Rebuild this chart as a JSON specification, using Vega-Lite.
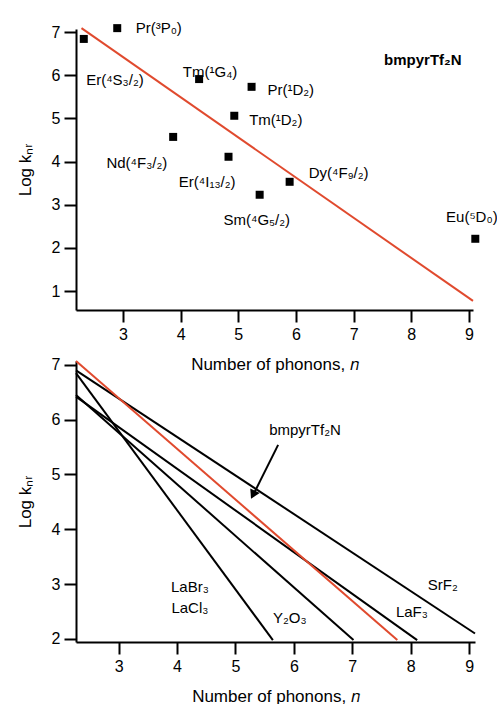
{
  "$schema": "https://vega.github.io/schema/vega-lite/v6.json",
  "background": "white",
  "padding": {"left": 16, "top": 21, "right": 0, "bottom": 0},
  "spacing": 51,
  "bounds": "flush",
  "config": {
    "view": {"stroke": null},
    "font": "Liberation Sans",
    "axis": {
      "grid": false,
      "domainColor": "black",
      "domainWidth": 2,
      "tickColor": "black",
      "tickWidth": 2,
      "tickSize": 12,
      "labelColor": "black",
      "labelFontSize": 16,
      "labelFont": "Liberation Sans",
      "labelPadding": 4,
      "format": "d",
      "titleColor": "black",
      "titleFontSize": 17,
      "titleFont": "Liberation Sans",
      "titleFontWeight": "normal"
    },
    "text": {"font": "Liberation Sans", "fontSize": 15, "color": "black"}
  },
  "datasets": {
    "fitTop": [
      {"n": 2.28, "logk": 7.09},
      {"n": 9.07, "logk": 0.77}
    ],
    "ions": [
      {"level": "Er(4S3/2)", "n": 2.32, "logk": 6.84},
      {"level": "Pr(3P0)", "n": 2.9, "logk": 7.09},
      {"level": "Tm(1G4)", "n": 4.32, "logk": 5.91},
      {"level": "Pr(1D2)", "n": 5.23, "logk": 5.73},
      {"level": "Tm(1D2)", "n": 4.93, "logk": 5.06},
      {"level": "Nd(4F3/2)", "n": 3.87, "logk": 4.57},
      {"level": "Er(4I13/2)", "n": 4.83, "logk": 4.11},
      {"level": "Dy(4F9/2)", "n": 5.89, "logk": 3.53},
      {"level": "Sm(4G5/2)", "n": 5.37, "logk": 3.23},
      {"level": "Eu(5D0)", "n": 9.11, "logk": 2.21}
    ],
    "ionLabels": [
      {"text": "Pr(³P₀)", "n": 3.62, "logk": 7.09},
      {"text": "Er(⁴S₃/₂)", "n": 2.86, "logk": 5.89},
      {"text": "Tm(¹G₄)", "n": 4.51, "logk": 6.07},
      {"text": "Pr(¹D₂)", "n": 5.91, "logk": 5.66},
      {"text": "Tm(¹D₂)", "n": 5.65, "logk": 4.96},
      {"text": "Nd(⁴F₃/₂)", "n": 3.24, "logk": 3.97},
      {"text": "Er(⁴I₁₃/₂)", "n": 4.46, "logk": 3.53},
      {"text": "Dy(⁴F₉/₂)", "n": 6.74, "logk": 3.74},
      {"text": "Sm(⁴G₅/₂)", "n": 5.32, "logk": 2.65},
      {"text": "Eu(⁵D₀)", "n": 9.05, "logk": 2.72}
    ],
    "hosts": [
      {"host": "SrF2", "n": 2.27, "logk": 6.9},
      {"host": "SrF2", "n": 9.1, "logk": 2.1},
      {"host": "LaBr3/LaCl3", "n": 2.27, "logk": 6.85},
      {"host": "LaBr3/LaCl3", "n": 5.64, "logk": 1.98},
      {"host": "Y2O3", "n": 2.27, "logk": 6.45},
      {"host": "Y2O3", "n": 7.02, "logk": 1.98},
      {"host": "LaF3", "n": 2.27, "logk": 6.42},
      {"host": "LaF3", "n": 8.11, "logk": 1.98}
    ],
    "fitBottom": [
      {"n": 2.27, "logk": 7.07},
      {"n": 7.77, "logk": 1.98}
    ],
    "hostLabels": [
      {"text": "SrF₂", "n": 8.55, "logk": 2.98},
      {"text": "LaF₃", "n": 8.02, "logk": 2.49},
      {"text": "Y₂O₃", "n": 5.93, "logk": 2.38},
      {"text": "LaBr₃", "n": 4.22, "logk": 2.95},
      {"text": "LaCl₃", "n": 4.22, "logk": 2.57},
      {"text": "bmpyrTf₂N", "n": 6.19, "logk": 5.81}
    ],
    "pointer": [
      {"n": 5.73, "logk": 5.54, "n2": 5.29, "logk2": 4.6}
    ],
    "pointerTip": [
      {"n": 5.3, "logk": 4.63}
    ]
  },
  "vconcat": [
    {
      "width": 397,
      "height": 281,
      "layer": [
        {
          "data": {"name": "fitTop"},
          "mark": {"type": "line", "color": "#e04a2e", "strokeWidth": 2},
          "encoding": {
            "x": {
              "field": "n", "type": "quantitative",
              "scale": {"domain": [2.185, 9.07], "nice": false, "zero": false},
              "axis": {"values": [3, 4, 5, 6, 7, 8, 9], "title": "Number of phonons, 𝑛", "titlePadding": 14}
            },
            "y": {
              "field": "logk", "type": "quantitative",
              "scale": {"domain": [0.56, 7.07], "nice": false, "zero": false},
              "axis": {"values": [1, 2, 3, 4, 5, 6, 7], "title": "Log kₙᵣ", "titlePadding": 17}
            }
          }
        },
        {
          "data": {"name": "ions"},
          "mark": {"type": "point", "shape": "square", "filled": true, "color": "black", "size": 64, "opacity": 1},
          "encoding": {
            "x": {"field": "n", "type": "quantitative"},
            "y": {"field": "logk", "type": "quantitative"}
          }
        },
        {
          "data": {"name": "ionLabels"},
          "mark": {"type": "text", "align": "center", "baseline": "middle"},
          "encoding": {
            "x": {"field": "n", "type": "quantitative"},
            "y": {"field": "logk", "type": "quantitative"},
            "text": {"field": "text"}
          }
        },
        {
          "data": {"values": [{"text": "bmpyrTf₂N", "n": 8.2, "logk": 6.35}]},
          "mark": {"type": "text", "align": "center", "baseline": "middle", "fontWeight": "bold"},
          "encoding": {
            "x": {"field": "n", "type": "quantitative"},
            "y": {"field": "logk", "type": "quantitative"},
            "text": {"field": "text"}
          }
        }
      ]
    },
    {
      "width": 399,
      "height": 281,
      "layer": [
        {
          "data": {"name": "hosts"},
          "mark": {"type": "line", "color": "black", "strokeWidth": 2},
          "encoding": {
            "x": {
              "field": "n", "type": "quantitative",
              "scale": {"domain": [2.27, 9.1], "nice": false, "zero": false},
              "axis": {"values": [3, 4, 5, 6, 7, 8, 9], "title": "Number of phonons, 𝑛", "titlePadding": 14}
            },
            "y": {
              "field": "logk", "type": "quantitative",
              "scale": {"domain": [1.945, 7.07], "nice": false, "zero": false},
              "axis": {"values": [2, 3, 4, 5, 6, 7], "title": "Log kₙᵣ", "titlePadding": 17}
            },
            "detail": {"field": "host"}
          }
        },
        {
          "data": {"name": "fitBottom"},
          "mark": {"type": "line", "color": "#e04a2e", "strokeWidth": 2},
          "encoding": {
            "x": {"field": "n", "type": "quantitative"},
            "y": {"field": "logk", "type": "quantitative"}
          }
        },
        {
          "data": {"name": "pointer"},
          "mark": {"type": "rule", "color": "black", "strokeWidth": 2},
          "encoding": {
            "x": {"field": "n", "type": "quantitative"},
            "y": {"field": "logk", "type": "quantitative"},
            "x2": {"field": "n2"},
            "y2": {"field": "logk2"}
          }
        },
        {
          "data": {"name": "pointerTip"},
          "mark": {"type": "point", "shape": "triangle-down", "filled": true, "color": "black", "size": 110, "angle": 26, "opacity": 1},
          "encoding": {
            "x": {"field": "n", "type": "quantitative"},
            "y": {"field": "logk", "type": "quantitative"}
          }
        },
        {
          "data": {"name": "hostLabels"},
          "mark": {"type": "text", "align": "center", "baseline": "middle"},
          "encoding": {
            "x": {"field": "n", "type": "quantitative"},
            "y": {"field": "logk", "type": "quantitative"},
            "text": {"field": "text"}
          }
        }
      ]
    }
  ]
}
